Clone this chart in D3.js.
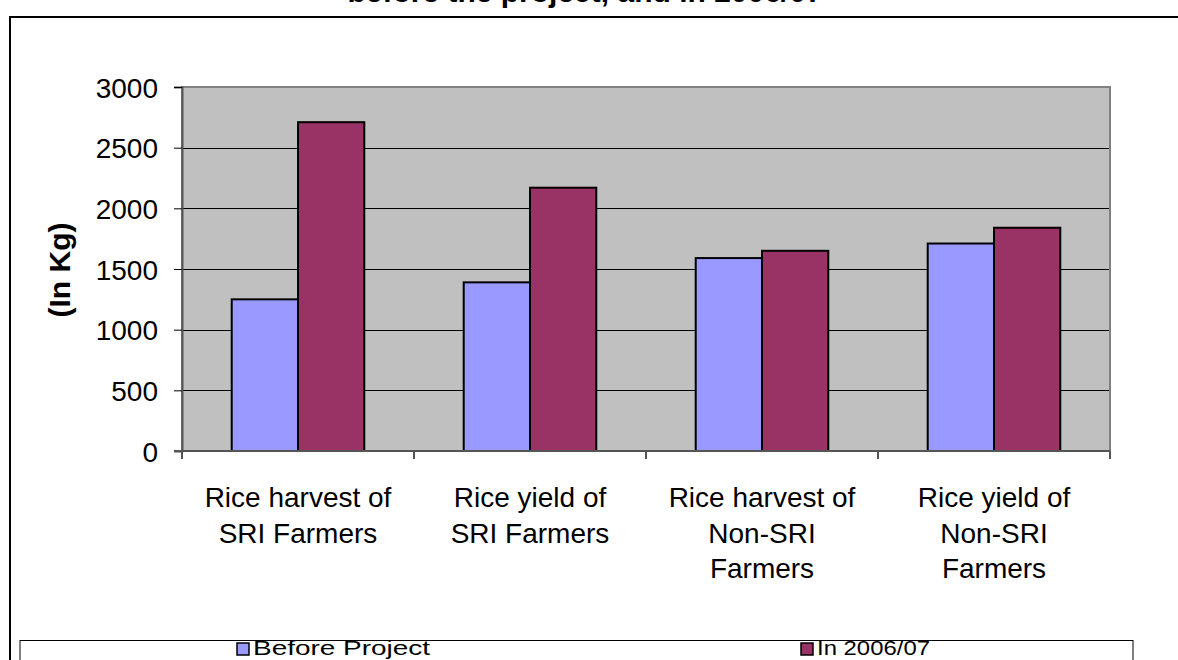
<!doctype html>
<html>
<head>
<meta charset="utf-8">
<title>Rice harvest and yield (In Kg)</title>
<script src="https://cdn.jsdelivr.net/npm/d3@7"></script>
<style>
  body { margin: 0; background: #fff; }
  svg text { font-family: "Liberation Sans", Arial, sans-serif; fill: #000; }
</style>
</head>
<body>
<div id="chart-area"></div>
<script>
// data
var categories = ["SRI harvest", "SRI yield", "Non-SRI harvest", "Non-SRI yield"];
var categoryLabels = [
    ["Rice harvest of", "SRI Farmers"],
    ["Rice yield of", "SRI Farmers"],
    ["Rice harvest of", "Non-SRI", "Farmers"],
    ["Rice yield of", "Non-SRI", "Farmers"]
];
var seriesNames = ["Before Project", "In 2006/07"];
var beforeProject = [1250, 1390, 1590, 1710];
var in200607 = [2710, 2170, 1650, 1840];
var yTicks = [0, 500, 1000, 1500, 2000, 2500, 3000];
var seriesColors = ["#9999FF", "#993366"];

var W = 1178, H = 660;
var margin = { left: 182, right: 68, top: 87, bottom: 209 };
var width = W - margin.left - margin.right,
    height = H - margin.top - margin.bottom;

var svg = d3.select("#chart-area").append("svg")
    .attr("width", W).attr("height", H);

// chart border (runs off the right and bottom of the picture)
svg.append("rect")
    .attr("x", 10).attr("y", 17)
    .attr("width", W + 20).attr("height", H + 20)
    .attr("fill", "none").attr("stroke", "#000").attr("stroke-width", 2);

// title, clipped at the top of the picture
svg.append("text")
    .attr("x", 585).attr("y", 2)
    .attr("text-anchor", "middle")
    .attr("font-size", "30px").attr("font-weight", "bold")
    .text("before the project, and in 2006/07");

var g = svg.append("g").attr("transform", "translate(" + margin.left + "," + margin.top + ")");

// scales
var x0 = d3.scaleBand().domain(categories).range([0, width]).paddingInner(0).paddingOuter(0);
var x1 = d3.scaleBand().domain(seriesNames).range([0, x0.bandwidth()]).paddingOuter(0.75).paddingInner(0);
var y = d3.scaleLinear().domain([0, 3000]).range([height, 0]);

// plot area
g.append("rect")
    .attr("width", width).attr("height", height)
    .attr("fill", "#C0C0C0");

// gridlines
g.selectAll(".grid").data(yTicks.filter(function(d){ return d > 0 && d < 3000; }))
    .enter().append("line")
    .attr("class", "grid")
    .attr("x1", 0).attr("x2", width)
    .attr("y1", function(d){ return Math.round(y(d)) + 0.5; })
    .attr("y2", function(d){ return Math.round(y(d)) + 0.5; })
    .attr("stroke", "#000").attr("stroke-width", 1);

// plot border
g.append("rect")
    .attr("width", width).attr("height", height)
    .attr("fill", "none").attr("stroke", "#808080").attr("stroke-width", 2);

// bars
var rows = categories.map(function(c, i){
    return [
        { cat: c, series: seriesNames[0], value: beforeProject[i], color: seriesColors[0] },
        { cat: c, series: seriesNames[1], value: in200607[i], color: seriesColors[1] }
    ];
});

g.selectAll(".group").data(rows).enter().append("g")
    .attr("class", "group")
    .attr("transform", function(d){ return "translate(" + x0(d[0].cat) + ",0)"; })
    .selectAll("rect").data(function(d){ return d; })
    .enter().append("rect")
    .attr("x", function(d){ return x1(d.series); })
    .attr("y", function(d){ return y(d.value); })
    .attr("width", x1.bandwidth())
    .attr("height", function(d){ return height - y(d.value); })
    .attr("fill", function(d){ return d.color; })
    .attr("stroke", "#000").attr("stroke-width", 2);

// y axis
var yAxis = g.append("g").attr("class", "y axis")
    .call(d3.axisLeft(y).tickValues(yTicks).tickSize(8).tickPadding(16).tickFormat(d3.format("d")));
yAxis.select(".domain").attr("stroke", "#555").attr("stroke-width", 2);
yAxis.selectAll(".tick line").attr("stroke", "#000");
yAxis.selectAll(".tick text").attr("font-size", "28px").attr("dy", "0.36em");

// x axis
var xAxis = g.append("g").attr("class", "x axis")
    .attr("transform", "translate(0," + height + ")");
xAxis.append("line")
    .attr("x1", -8).attr("x2", width)
    .attr("stroke", "#555").attr("stroke-width", 2);
var bounds = categories.map(function(c){ return x0(c); }).concat([width]);
xAxis.selectAll(".xtick").data(bounds).enter().append("line")
    .attr("class", "xtick")
    .attr("x1", function(d){ return d; }).attr("x2", function(d){ return d; })
    .attr("y1", 0).attr("y2", 8)
    .attr("stroke", "#555").attr("stroke-width", 2);

xAxis.selectAll(".xlabel").data(categories).enter().append("text")
    .attr("class", "xlabel")
    .attr("text-anchor", "middle")
    .attr("font-size", "28px")
    .attr("transform", function(d){ return "translate(" + (x0(d) + x0.bandwidth() / 2) + ",0)"; })
    .each(function(d, i){
        var t = d3.select(this);
        categoryLabels[i].forEach(function(line, j){
            t.append("tspan").attr("x", 0).attr("y", 56 + j * 35.5).text(line);
        });
    });

// y title
g.append("text")
    .attr("transform", "rotate(-90)")
    .attr("x", -(270 - margin.top)).attr("y", 70 - margin.left)
    .attr("text-anchor", "middle")
    .attr("font-size", "30px").attr("font-weight", "bold")
    .text("(In Kg)");

// legend
var legend = svg.append("g");
legend.append("rect")
    .attr("x", 20).attr("y", 640.5).attr("width", 1113).attr("height", 40)
    .attr("fill", "#fff").attr("stroke", "#000").attr("stroke-width", 1);

var legendX = [237, 801];
var legendW = [177, 113];
seriesNames.forEach(function(name, i){
    var row = legend.append("g").attr("transform", "translate(" + legendX[i] + ",643)");
    row.append("rect")
        .attr("x", 0).attr("y", 0).attr("width", 12).attr("height", 12)
        .attr("fill", seriesColors[i]).attr("stroke", "#000").attr("stroke-width", 1.5);
    row.append("text")
        .attr("x", 16).attr("y", 12)
        .attr("font-size", "21px")
        .attr("textLength", legendW[i]).attr("lengthAdjust", "spacingAndGlyphs")
        .text(name);
});
</script>
</body>
</html>
